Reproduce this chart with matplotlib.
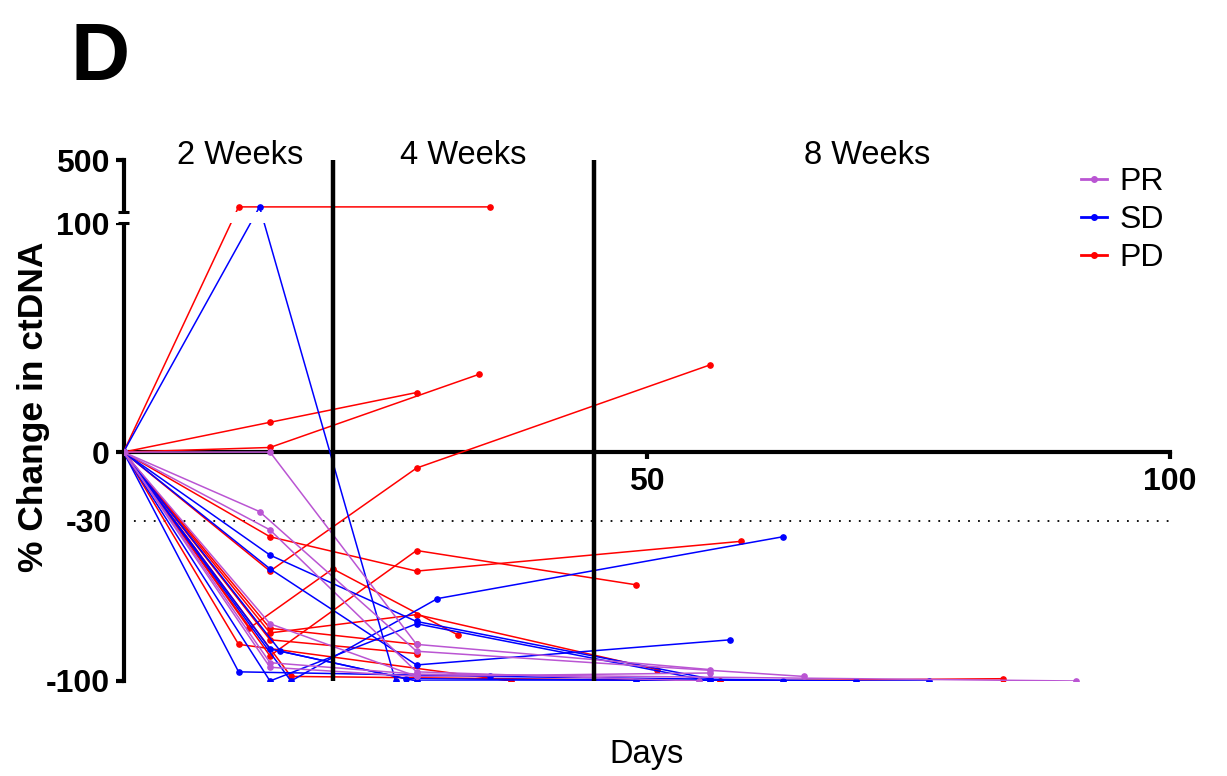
import numpy as np
import matplotlib
matplotlib.use('Agg')
import matplotlib.pyplot as plt
from matplotlib.lines import Line2D

plt.rcParams['font.family'] = 'Liberation Sans'

# values above 100 sit on the compressed upper axis segment
TOP = 140

# PR (partial response)
pr_days = [[0, 14, 28, 56], [0, 13, 28, 65], [0, 14, 28, 55],
           [0, 14, 28, 56], [0, 14, 28, 91], [0, 14, 28]]
pr_vals = [[0, 0, -84, -95], [0, -26, -87, -98], [0, -34, -96, -100],
           [0, -75, -98, -96.5], [0, -92, -97, -100], [0, -94, -98]]

# SD (stable disease)
sd_days = [[0, 13, 26], [0, 14, 28, 56], [0, 14, 28, 58], [0, 16, 30, 63],
           [0, 14, 28, 56], [0, 11, 35, 70], [0, 15, 28, 49],
           [0, 14, 27, 63, 77]]
sd_vals = [[0, TOP, -100], [0, -45, -74, -99], [0, -51, -93, -82],
           [0, -100, -64, -37], [0, -100, -75, -100], [0, -96, -98, -100],
           [0, -87, -100, -100], [0, -86, -99, -100, -100]]

# PD (progressive disease)
pd_days = [[0, 11, 35], [0, 14, 28], [0, 14, 34], [0, 14, 28, 56],
           [0, 14, 28, 59], [0, 12, 20, 32], [0, 14, 28, 49],
           [0, 14, 28, 51], [0, 11, 37], [0, 16, 57, 84], [0, 14, 28],
           [0, 14, 28]]
pd_vals = [[0, TOP, TOP], [0, 13, 26], [0, 2, 34], [0, -52, -7, 38],
           [0, -37, -52, -39], [0, -77, -51, -80], [0, -89, -43, -58],
           [0, -79, -71, -95], [0, -84, -100], [0, -98, -100, -99],
           [0, -82, -88], [0, -77, -84]]

week_labels = ['2 Weeks', '4 Weeks', '8 Weeks']
week_label_x = [11.1, 32.5, 71.1]
week_bounds = [20, 45]

colors = {'PR': '#BA55D3', 'SD': '#0000FF', 'PD': '#FF0000'}

# broken y axis: linear up to 100, small gap, compressed 100..500 on top
BRK, GAP, K = 100.0, 4.81, 22.76 / 400.0


def fwd(y):
    y = np.asarray(y, dtype=float)
    return np.where(y <= BRK, y, BRK + GAP + (y - BRK) * K)


def inv(t):
    t = np.asarray(t, dtype=float)
    return np.where(t <= BRK, t,
                    np.where(t < BRK + GAP, BRK, BRK + (t - BRK - GAP) / K))


W, H = 1227, 776
fig = plt.figure(figsize=(W / 100, H / 100), dpi=100)
ax = fig.add_axes([123.5 / W, (H - 681) / H, (1170 - 123.5) / W, 521 / H])
ax.set_yscale('function', functions=(fwd, inv))
ax.set_xlim(0, 100)
ax.set_ylim(-100, 500)

for days, vals in zip(pd_days, pd_vals):
    ax.plot(days, vals, color=colors['PD'], lw=1.1, marker='o', ms=3.8, zorder=3)
for days, vals in zip(sd_days, sd_vals):
    ax.plot(days, vals, color=colors['SD'], lw=1.1, marker='o', ms=3.8, zorder=3)
for days, vals in zip(pr_days, pr_vals):
    ax.plot(days, vals, color=colors['PR'], lw=1.1, marker='o', ms=3.8, zorder=3)

# gap in the axis
ax.axhspan(BRK, BRK + 1e-6, xmin=-0.012, xmax=1, color='white', lw=0,
           zorder=3.5, clip_on=False)
for yb in [BRK, BRK + 1e-6]:
    ax.plot([-0.5, 0.5], [yb, yb], color='k', lw=2.2, zorder=5, clip_on=False,
            solid_capstyle='butt')

for xb in week_bounds:
    ax.axvline(xb, color='k', lw=3.2, zorder=4)
ax.axhline(-30, color='k', lw=1.3, ls=(0, (1, 4.5)), zorder=1)

for lbl, xl in zip(week_labels, week_label_x):
    ax.text(xl, (681 - 156) / 521, lbl, transform=ax.get_xaxis_transform(),
            ha='center', va='center', fontsize=23.5)

# axes styling
ax.spines['top'].set_visible(False)
ax.spines['right'].set_visible(False)
ax.spines['left'].set_linewidth(3)
ax.spines['bottom'].set_linewidth(3)
ax.spines['bottom'].set_position(('data', 0))

ax.set_xticks([50, 100])
ax.set_xticklabels(['50', '100'])
ax.set_yticks([-100, 0, 100, 500])
ax.set_yticklabels(['-100', '0', '100', '500'])
ax.set_yticks([-30], minor=True)
ax.set_yticklabels(['-30'], minor=True)
ax.tick_params(axis='y', which='major', length=6, width=3, pad=4, labelsize=23)
ax.tick_params(axis='y', which='minor', length=0, pad=8, labelsize=23)
ax.tick_params(axis='x', which='major', length=5, width=3, pad=6, labelsize=23)
ax.tick_params(axis='x', which='minor', length=0)
for t in ax.get_xticklabels() + ax.get_yticklabels() + ax.get_yticklabels(minor=True):
    t.set_fontweight('bold')

handles = [Line2D([], [], color=colors[k], lw=2, marker='o', ms=4) for k in ['PR', 'SD', 'PD']]
ax.legend(handles, ['PR', 'SD', 'PD'], loc='upper left',
          bbox_to_anchor=(1081 / W, 1 - 167 / H), bbox_transform=fig.transFigure,
          frameon=False, fontsize=23, handlelength=0.8, handletextpad=0.4,
          labelspacing=0.25, borderpad=0, borderaxespad=0)

fig.text(34 / W, 1 - 407 / H, '% Change in ctDNA', rotation=90, ha='center',
         va='center', fontsize=25.5, fontweight='bold')
fig.text(647 / W, 1 - 755 / H, 'Days', ha='center', va='center', fontsize=23.5)
fig.text(71 / W, 1 - 80 / H, 'D', ha='left', va='baseline', fontsize=59,
         fontweight='bold')

fig.savefig('out.png', dpi=100)
